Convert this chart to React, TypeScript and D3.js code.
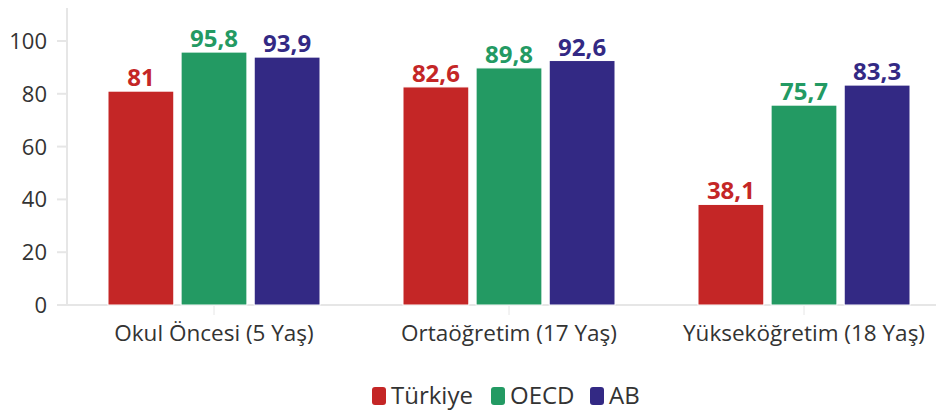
import React from "react";
import * as d3 from "d3";

const categories = ["Okul Öncesi (5 Yaş)", "Ortaöğretim (17 Yaş)", "Yükseköğretim (18 Yaş)"];
const seriesNames = ["Türkiye", "OECD", "AB"];
const turkiye = [81, 82.6, 38.1];
const oecd = [95.8, 89.8, 75.7];
const ab = [93.9, 92.6, 83.3];
const colors = ["#c42626", "#239a63", "#332984"];
const yTicks = [0, 20, 40, 60, 80, 100];

const W = 936;
const H = 413;
const FONT = "'Source Sans Pro', 'Open Sans', 'Noto Sans', sans-serif";

export default function App() {
  const series = [turkiye, oecd, ab];
  const y = d3.scaleLinear().domain([0, 100]).range([305, 41]);
  const x0 = d3.scaleBand<string>().domain(categories).range([66.5, 951.5]).paddingInner(0).paddingOuter(0);
  const x1 = d3.scaleBand<string>().domain(seriesNames).range([41.5, 253.5]).paddingInner(0.1).paddingOuter(0);
  const fmt = (v: number) => String(v).replace(".", ",");

  const legendItems = [
    { name: "Türkiye", x: 372 },
    { name: "OECD", x: 491 },
    { name: "AB", x: 590 },
  ];

  return (
    <svg width={W} height={H} style={{ position: "absolute", left: 0, top: 0, background: "#fff" }} fontFamily={FONT}>
      <line x1={67} x2={67} y1={8} y2={305} stroke="#e6e6e6" strokeWidth={2} />
      <line x1={67} x2={W} y1={305} y2={305} stroke="#e6e6e6" strokeWidth={2} />
      {yTicks.map((t) => (
        <g key={t}>
          <line x1={57} x2={67} y1={y(t)} y2={y(t)} stroke="#e6e6e6" strokeWidth={2} />
          <text x={47} y={y(t)} dy="0.36em" textAnchor="end" fontSize={22} fill="#333">
            {t}
          </text>
        </g>
      ))}
      {categories.map((c, ci) => {
        const gx = x0(c)!;
        return (
          <g key={c}>
            <line x1={gx + x0.bandwidth() / 2} x2={gx + x0.bandwidth() / 2} y1={305} y2={315} stroke="#e6e6e6" strokeWidth={1} />
            {seriesNames.map((s, si) => {
              const v = series[si][ci];
              const bx = gx + x1(s)!;
              return (
                <g key={s}>
                  <rect x={bx} y={y(v)} width={x1.bandwidth()} height={305 - y(v)} fill={colors[si]} stroke="#fff" strokeWidth={1} />
                  <text x={bx + x1.bandwidth() / 2} y={y(v) - 5} textAnchor="middle" fontSize={24} fontWeight={700} fill={colors[si]}>
                    {fmt(v)}
                  </text>
                </g>
              );
            })}
            <text x={gx + x0.bandwidth() / 2} y={341} textAnchor="middle" fontSize={22.5} fill="#333">
              {c}
            </text>
          </g>
        );
      })}
      {legendItems.map((l, i) => (
        <g key={l.name}>
          <rect x={l.x} y={387} width={14} height={18} rx={3} fill={colors[i]} />
          <text x={l.x + 19} y={404} fontSize={24} fill="#333">
            {l.name}
          </text>
        </g>
      ))}
    </svg>
  );
}
